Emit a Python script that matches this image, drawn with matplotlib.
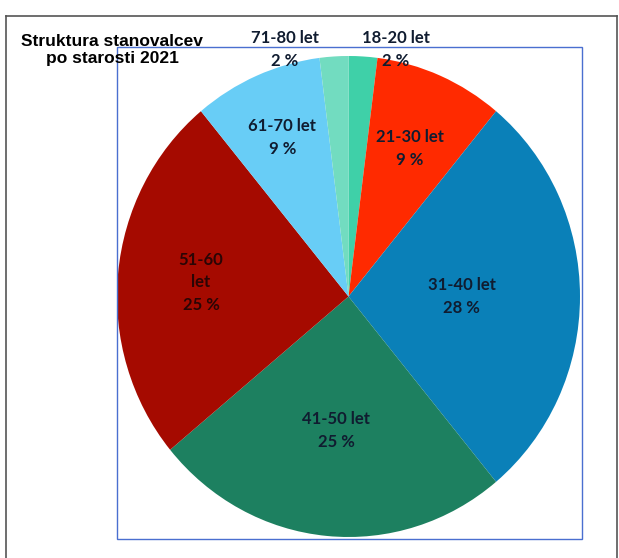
import matplotlib.pyplot as plt
import numpy as np
from matplotlib.patches import Rectangle
from matplotlib.lines import Line2D

# starostne skupine in deleži (v smeri urinega kazalca od vrha)
skupine = ['18-20 let', '21-30 let', '31-40 let', '41-50 let', '51-60\nlet', '61-70 let', '71-80 let']
delezi = [2, 9, 28, 25, 25, 9, 2]
barve = ['#3fd0a8', '#ff2a00', '#0a80b8', '#1d8060', '#a50a00', '#68cdf6', '#72dcc0']
razdalje = [1.03, 0.67, 0.49, 0.56, 0.64, 0.72, 1.03]

fig = plt.figure(figsize=(6.19, 5.58), dpi=100)
W, H = 619, 558

# zunanji okvir
fig.add_artist(Line2D([6 / W, 6 / W], [0, 1 - 16 / H], color='#555555', lw=1.2))
fig.add_artist(Line2D([6 / W, 617 / W], [1 - 16 / H, 1 - 16 / H], color='#555555', lw=1.2))
fig.add_artist(Line2D([617 / W, 617 / W], [0, 1 - 16 / H], color='#555555', lw=1.2))

# modri okvir območja grafa
fig.add_artist(Rectangle((117 / W, 1 - 539 / H), 465 / W, 492 / H, fill=False,
                         edgecolor='#4a6fd0', lw=1.0, transform=fig.transFigure))

ax = fig.add_axes([117 / W, 1 - 537 / H, 463 / W, 481 / H])
wedges, _ = ax.pie(delezi, colors=barve, startangle=90, counterclock=False,
                   wedgeprops=dict(linewidth=0))
ax.set_aspect('auto')
ax.set_xlim(-1, 1)
ax.set_ylim(-1, 1)
ax.axis('off')

for i, (w, lab, d, r) in enumerate(zip(wedges, skupine, delezi, razdalje)):
    mid = np.deg2rad((w.theta1 + w.theta2) / 2)
    x, y = r * np.cos(mid), r * np.sin(mid)
    col = '#2a0505' if i == 4 else '#101c30'
    if i == 0:
        x += 0.14
    elif i == 6:
        x -= 0.21
    ax.text(x, y, f'{lab}\n{d} %', ha='center', va='center', fontsize=12,
            fontweight='bold', family='Lato', color=col, linespacing=1.5,
            clip_on=False)

fig.text(112 / W, 1 - 50 / H, 'Struktura stanovalcev\npo starosti 2021', ha='center',
         va='center', fontsize=12.5, fontweight='bold', family='Liberation Sans',
         linespacing=1.25)

fig.savefig('out.png', dpi=100)
